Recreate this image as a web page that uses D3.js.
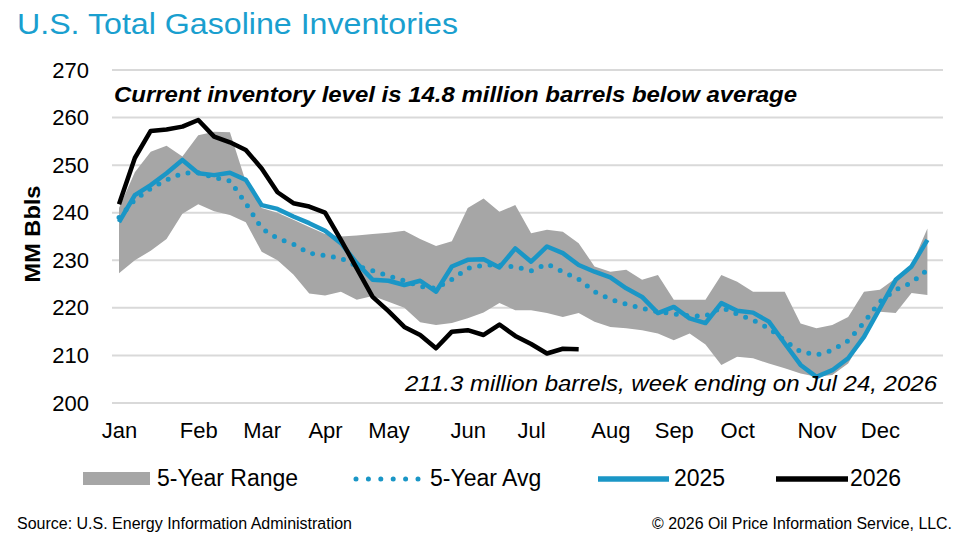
<!DOCTYPE html>
<html><head><meta charset="utf-8">
<script src="https://cdn.jsdelivr.net/npm/d3@7"></script>
<style>
html,body{margin:0;padding:0;background:#fff;}
svg{display:block;font-family:"Liberation Sans",Arial,sans-serif;}
</style></head>
<body>
<svg id="c" width="967" height="546"></svg>
<script>
const monthLabels = ["Jan","Feb","Mar","Apr","May","Jun","Jul","Aug","Sep","Oct","Nov","Dec"];
const monthWeeks  = [0,5,9,13,17,22,26,31,35,39,44,48];
const yTicks = [200,210,220,230,240,250,260,270];

const rangeLow = [227.3,230,232,234.5,239.8,241.8,240.3,239.5,238,231.8,230,227,223,222.6,223.4,221.7,222.5,221.3,220,217,216.4,216.8,217.8,219,221,219.5,219.5,218.9,218.1,218.9,217.1,216,215.7,215.3,214.6,213.2,214.6,212.3,208,209.7,209.4,208.3,207.3,206.2,205.5,205.9,208.3,213.9,219.2,218.9,223.1,222.7];
const rangeHigh = [241,248.5,252.8,254.1,251.8,256.3,257,256.9,246.5,241,240,238.5,237,235.5,235,235.2,235.5,235.8,236.2,234.5,233,234,241,243,240.2,241.6,235.7,236.4,236,233.6,228.7,227.6,228,225.9,226.9,221.7,221.7,221.7,226.9,225.5,223.4,223.4,223.4,216.7,215.7,216.4,218.1,223.4,223.8,226.2,229,236.7];
const avg5 = [239,242.7,245.1,246.9,248.3,248.4,247.4,246.7,242,236.7,234.6,233.4,231.5,231,230.4,228.8,227.8,226.7,225.7,224.5,224.1,226,228.3,229,229,228.6,227.8,229.2,227.6,226,223.4,221.8,220.8,219.9,219.2,218.7,218.3,218.3,220.1,218.7,217.4,215.7,213.1,210.8,210.1,211.1,213.1,216.9,221.3,223.8,225.3,228];
const y2025 = [238,243.7,245.8,248.3,251.1,248.3,247.9,248.4,246.9,241.6,240.8,239.2,237.8,236.2,233.6,229.4,225.9,225.7,224.8,225.7,223.4,228.7,230.1,230.2,228.5,232.5,229.7,232.9,231.5,229,227.6,226.4,224.1,222.3,218.9,220.2,217.8,216.8,221,219.4,219,217.1,212.5,208,205.5,206.9,209.4,213.9,219.9,225.9,228.7,234.3];
const y2026 = [241.8,251.5,257.2,257.5,258.1,259.5,256,254.8,253.2,249.3,244.3,242,241.3,240,234.3,228.3,222.3,219.3,216,214.3,211.5,215,215.3,214.3,216.5,214.1,212.4,210.4,211.4,211.3];

const FONT = "'Liberation Sans',Arial,sans-serif";
const svg = d3.select("#c");
const x = d3.scaleLinear().domain([0,51]).range([119, 927.4]);
const y = d3.scaleLinear().domain([200,270]).range([403, 70]);

// title
svg.append("text").attr("x",17).attr("y",34).attr("fill","#1a9fcf")
  .attr("font-size",29).attr("textLength",441).attr("lengthAdjust","spacingAndGlyphs")
  .text("U.S. Total Gasoline Inventories");

// gridlines
svg.append("g").selectAll("line").data(yTicks).join("line")
  .attr("x1",112).attr("x2",943).attr("y1",d=>y(d)).attr("y2",d=>y(d))
  .attr("stroke","#d9d9d9").attr("stroke-width",2);

// y axis labels
const yAxis = d3.axisLeft(y).tickValues(yTicks).tickSize(0).tickPadding(0);
const gy = svg.append("g").attr("transform","translate(89,0)").call(yAxis);
gy.select(".domain").remove();
gy.selectAll("text").attr("font-size",22).attr("fill","#000").attr("font-family",FONT);

svg.append("text").attr("transform","translate(40,234) rotate(-90)")
  .attr("text-anchor","middle").attr("font-size",22).attr("font-weight","bold")
  .attr("textLength",97).attr("lengthAdjust","spacingAndGlyphs").text("MM Bbls");

// x labels
const xAxis = d3.axisBottom(x).tickValues(monthWeeks).tickSize(0).tickPadding(0)
  .tickFormat((d,i)=>monthLabels[i]);
const gx = svg.append("g").attr("transform","translate(0,422)").call(xAxis);
gx.select(".domain").remove();
gx.selectAll("text").attr("font-size",22).attr("fill","#000").attr("font-family",FONT);

// band
const idx = d3.range(rangeLow.length);
svg.append("path").datum(idx)
  .attr("d", d3.area().x(i=>x(i)).y0(i=>y(rangeLow[i])).y1(i=>y(rangeHigh[i])))
  .attr("fill","#a6a6a6");

const line = arr => d3.line().x((d,i)=>x(i)).y(d=>y(d))(arr);

svg.append("path").attr("d",line(avg5)).attr("fill","none")
  .attr("stroke","#1a96c6").attr("stroke-width",5).attr("stroke-linecap","round")
  .attr("stroke-dasharray","0 10.5");

svg.append("path").attr("d",line(y2025)).attr("fill","none")
  .attr("stroke","#1a96c6").attr("stroke-width",4.5).attr("stroke-linejoin","round");

svg.append("path").attr("d",line(y2026)).attr("fill","none")
  .attr("stroke","#000").attr("stroke-width",4.5).attr("stroke-linejoin","round");

// annotations
svg.append("text").attr("x",114).attr("y",102).attr("font-size",21.5)
  .attr("font-weight","bold").attr("font-style","italic")
  .attr("textLength",683).attr("lengthAdjust","spacingAndGlyphs")
  .text("Current inventory level is 14.8 million barrels below average");
svg.append("text").attr("x",405).attr("y",391).attr("font-size",21.5)
  .attr("font-style","italic")
  .attr("textLength",532).attr("lengthAdjust","spacingAndGlyphs")
  .text("211.3 million barrels, week ending on Jul 24, 2026");

// legend
const lg = svg.append("g").attr("font-size",23);
lg.append("rect").attr("x",83).attr("y",472).attr("width",67).attr("height",13).attr("fill","#a6a6a6");
lg.append("text").attr("x",157).attr("y",486).text("5-Year Range");
lg.append("line").attr("x1",356).attr("x2",418).attr("y1",479).attr("y2",479)
  .attr("stroke","#1a96c6").attr("stroke-width",5).attr("stroke-linecap","round")
  .attr("stroke-dasharray","0 12.4");
lg.append("text").attr("x",430).attr("y",486).text("5-Year Avg");
lg.append("line").attr("x1",598).attr("x2",669).attr("y1",479).attr("y2",479)
  .attr("stroke","#1a96c6").attr("stroke-width",5.5);
lg.append("text").attr("x",674).attr("y",486).text("2025");
lg.append("line").attr("x1",776).attr("x2",848).attr("y1",479).attr("y2",479)
  .attr("stroke","#000").attr("stroke-width",5.5);
lg.append("text").attr("x",850).attr("y",486).text("2026");

// source
svg.append("text").attr("x",17).attr("y",529).attr("font-size",16)
  .attr("textLength",335).attr("lengthAdjust","spacingAndGlyphs")
  .text("Source: U.S. Energy Information Administration");
svg.append("text").attr("x",652).attr("y",529).attr("font-size",16)
  .attr("textLength",300).attr("lengthAdjust","spacingAndGlyphs")
  .text("© 2026 Oil Price Information Service, LLC.");
</script>
</body></html>
